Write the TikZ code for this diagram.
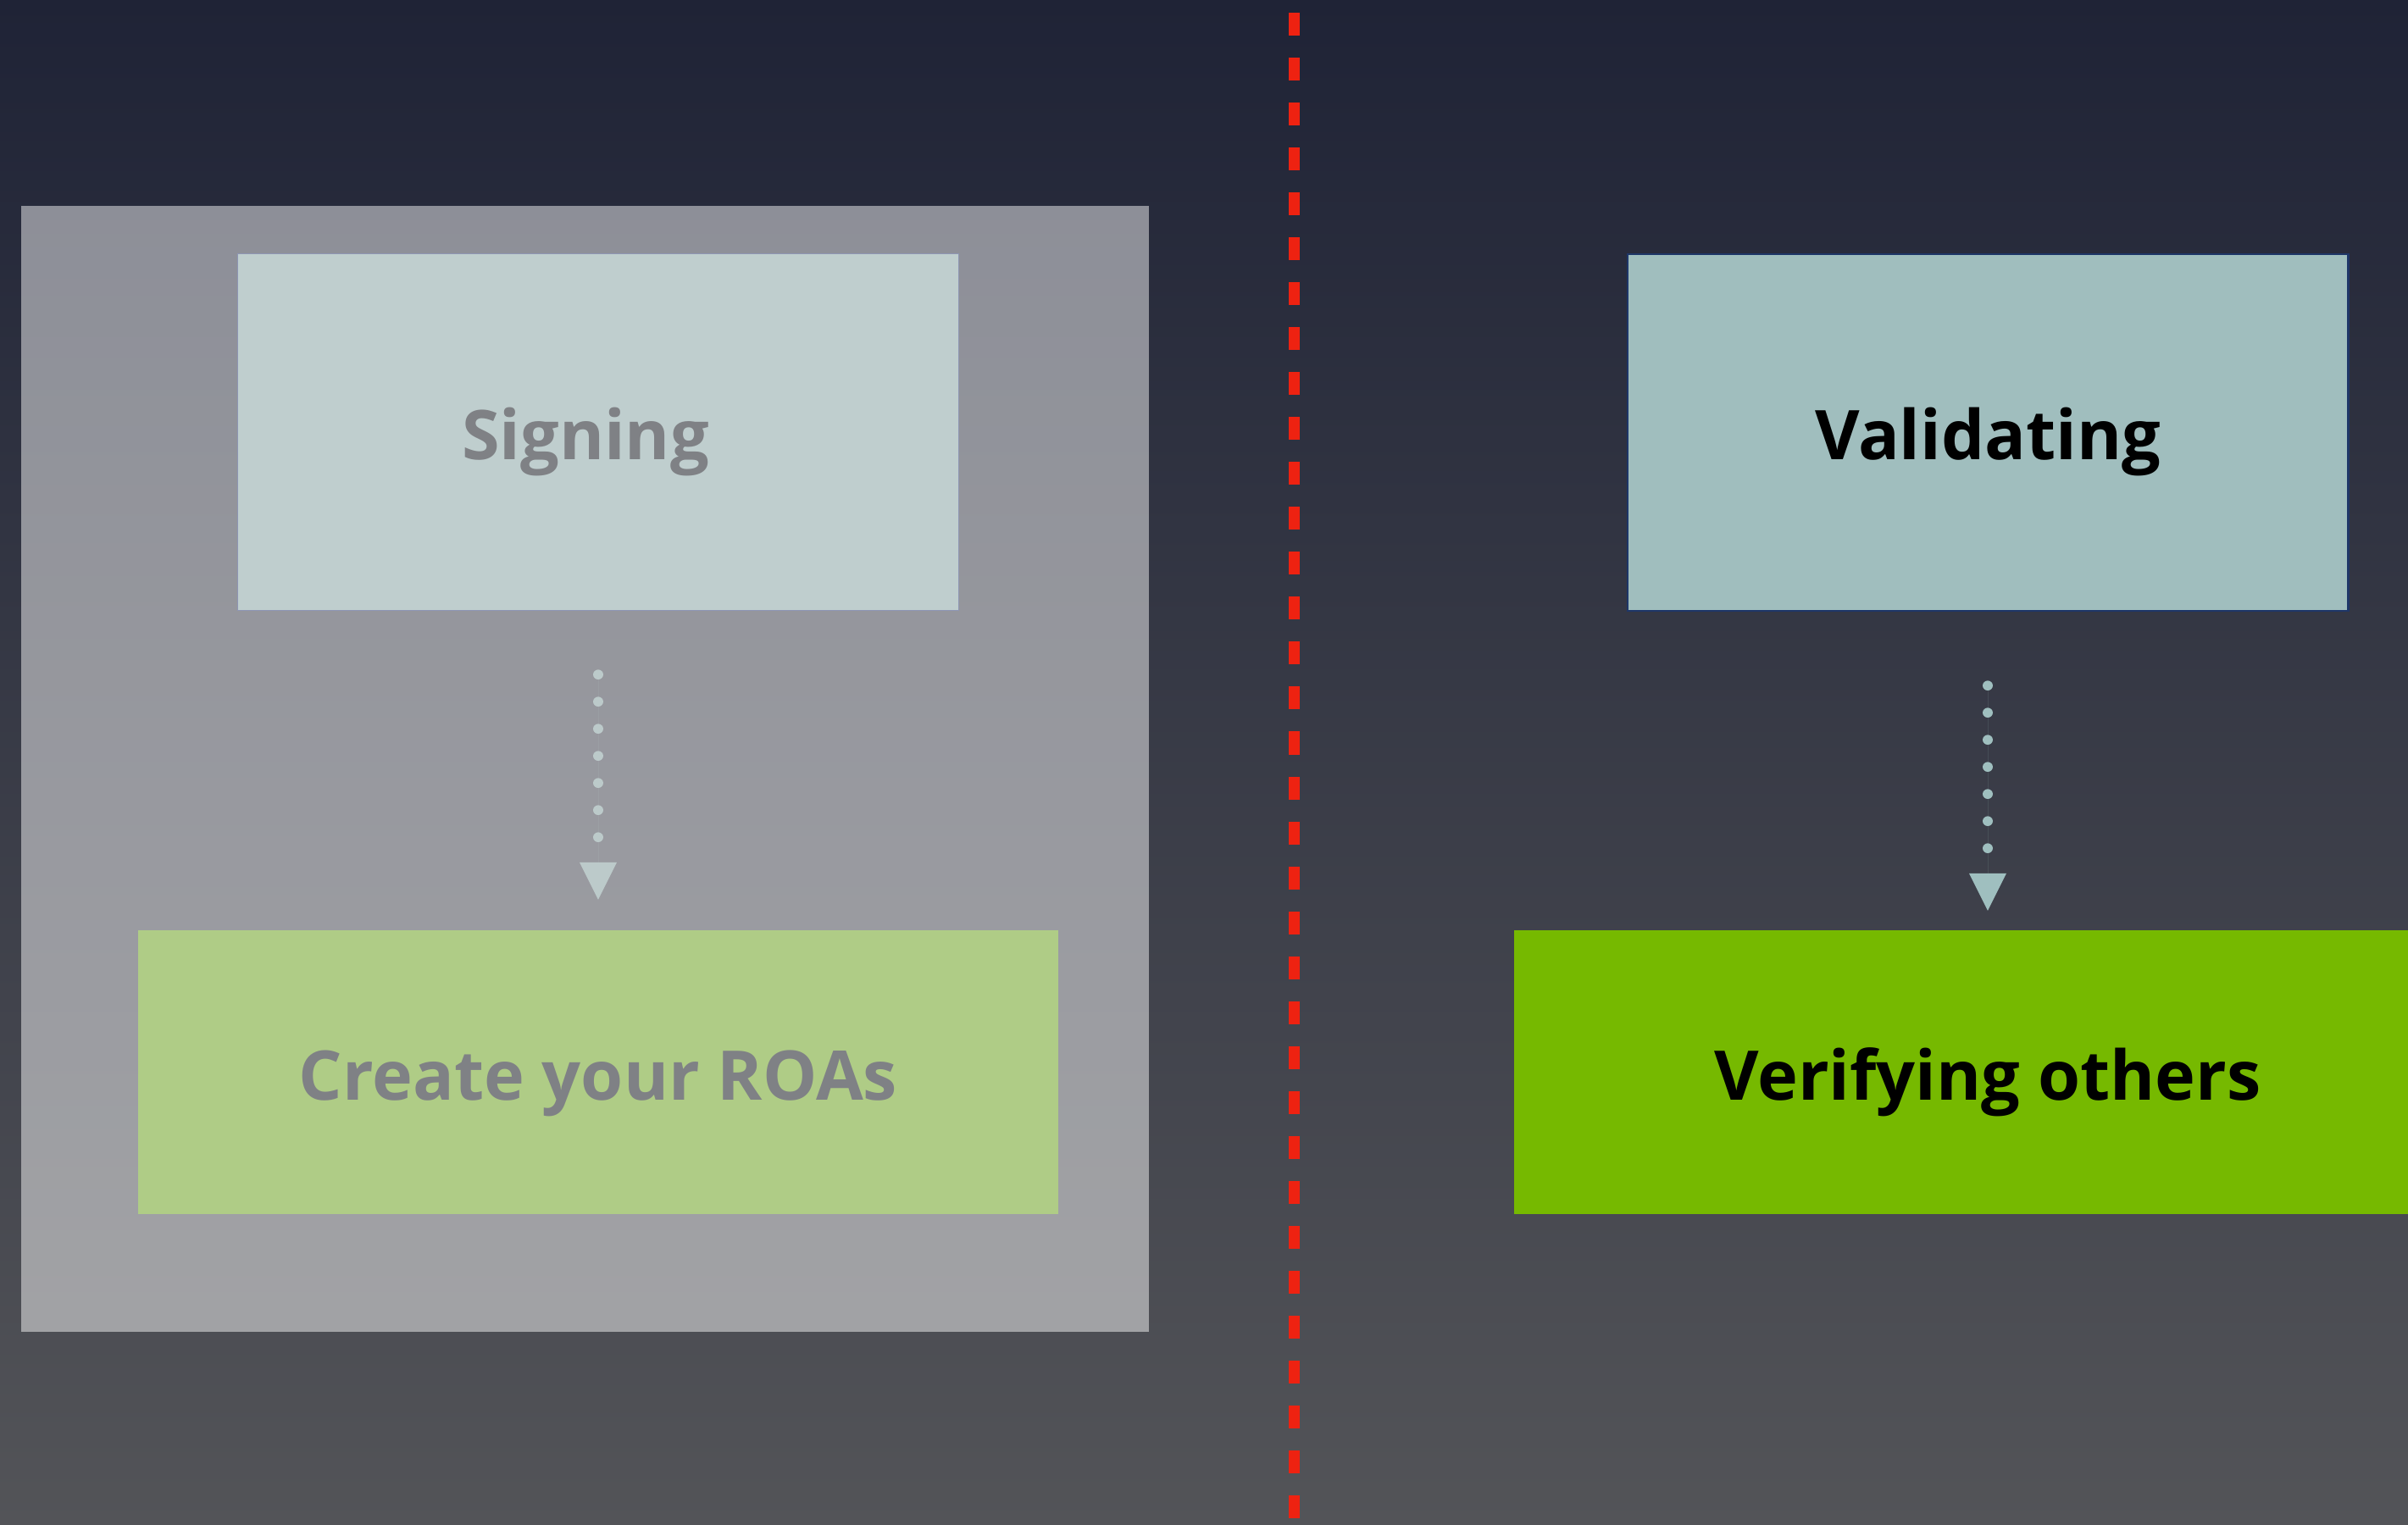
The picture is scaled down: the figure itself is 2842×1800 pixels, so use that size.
\documentclass[tikz,border=0pt]{standalone}
\usepackage{fontspec}
\setmainfont{Open Sans}
\usetikzlibrary{arrows.meta}
\definecolor{bgtop}{HTML}{1F2336}
\definecolor{bgmid}{HTML}{393C4A}
\definecolor{bgbot}{HTML}{535458}
\definecolor{signfill}{HTML}{BFCECE}
\definecolor{signborder}{HTML}{8E96B4}
\definecolor{validfill}{HTML}{A0BEBE}
\definecolor{validborder}{HTML}{1E3668}
\definecolor{roafill}{HTML}{AFCC86}
\definecolor{verfill}{HTML}{76B900}
\definecolor{arrowL}{HTML}{BCCACA}
\definecolor{arrowR}{HTML}{9FBFBF}
\definecolor{txtgray}{HTML}{7F8185}
\definecolor{redline}{HTML}{EE2211}
\tikzset{
  box/.style={rectangle, inner sep=0pt, outer sep=0pt},
  lbl/.style={anchor=base, inner sep=0pt, font=\fontsize{23}{28}\selectfont\bfseries},
  dotarrow/.style={line width=3.3pt, line cap=round, dash pattern=on 0.01pt off 9.09pt,
    -{Triangle[length=12.5pt,width=12.5pt,line width=0pt]}},
}
\begin{document}
\begin{tikzpicture}[x=0.01cm,y=-0.01cm]
\useasboundingbox (0,0) rectangle (2842,1800);
\clip (0,0) rectangle (2842,1800);
\shade[top color=bgtop, middle color=bgmid, bottom color=bgbot] (0,0) rectangle (2842,1800);
% left panel
\fill[white, opacity=0.48] (25,243) rectangle (1356,1572);
\node[box, fill=signfill, draw=signborder, line width=0.3pt,
  minimum width=8.50cm, minimum height=4.20cm] (sign) at (706,510) {};
\node[lbl, text=txtgray] (signtxt) at (691,542) {Signing};
\node[box, fill=roafill, minimum width=10.86cm, minimum height=3.35cm] (roa) at (706,1265.5) {};
\node[lbl, text=txtgray] (roatxt) at (706,1298) {Create your ROAs};
\draw[dotarrow, draw=arrowL, fill=arrowL, shorten <=0.76cm, shorten >=0.36cm] (sign.south) -- (roa.north);
% right panel
\node[box, fill=validfill, draw=validborder, line width=0.7pt,
  minimum width=8.50cm, minimum height=4.21cm] (valid) at (2346,510.5) {};
\node[lbl, text=black] (validtxt) at (2346,542) {Validating};
\node[box, fill=verfill, minimum width=11.18cm, minimum height=3.35cm] (ver) at (2346,1265.5) {};
\node[lbl, text=black] (vertxt) at (2346,1298) {Verifying others};
\draw[dotarrow, draw=arrowR, fill=arrowR, shorten <=0.88cm, shorten >=0.23cm] (valid.south) -- (ver.north);
% divider
\coordinate (dtop) at (1527,15);
\coordinate (dbot) at (1527,1800);
\draw[redline, line width=0.13cm, dash pattern=on 0.27cm off 0.26cm] (dtop) -- (dbot);
\end{tikzpicture}
\end{document}
